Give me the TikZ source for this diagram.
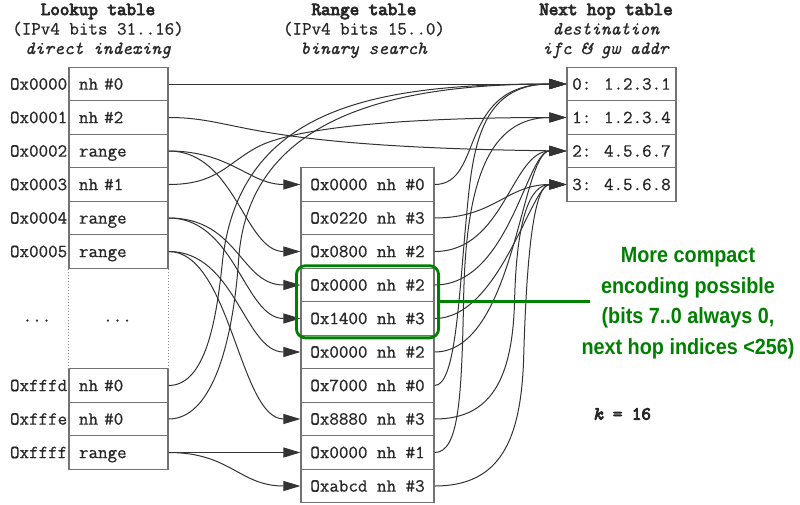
\documentclass[tikz,border=0pt]{standalone}
\usepackage{fontspec}
\newfontfamily\greenfont[FakeStretch=0.9]{Liberation Sans}
\newfontfamily\tabtt[FakeBold=0.7]{Latin Modern Mono}
\newfontfamily\tabttb[FakeBold=4.5]{Latin Modern Mono}
\usetikzlibrary{arrows.meta,calc,fit}
\definecolor{ggreen}{RGB}{0,128,0}
\definecolor{ink}{RGB}{40,40,40}
\newcommand\tabfont{\fontsize{18.5}{19.5}\selectfont\tabtt}
\newcommand\sconn[4]{\draw[conn] (#1) .. controls ($(#1)+(#3,0)$) and ($(#2)+(-#4,0)$) .. (#2);}
\newcommand\dconn[7]{\draw[conn] (#1) .. controls ($(#1)+(#3,0)$) and ($(#1)+(#4)$) .. ($(#1)+(#5)$) .. controls ($(#1)+(#6)$) and ($(#2)+(-#7,0)$) .. (#2);}
\begin{document}
\begin{tikzpicture}[x=1pt,y=-1pt,
  cell/.style={draw=black!55, line width=1.2pt, minimum height=33.5pt, inner sep=0pt, font=\tabfont, text=ink, text height=13pt, text depth=1.7pt},
  lkcell/.style={cell, minimum width=99pt, text width=79pt, align=left},
  rgcell/.style={cell, minimum width=133pt},
  nhcell/.style={cell, minimum width=109pt},
  lbl/.style={font=\tabfont, text=ink, inner sep=1pt, text height=13pt, text depth=1.7pt},
  title/.style={font=\tabfont, text=ink, align=center, inner sep=0pt},
  conn/.style={draw=black!80, line width=1pt, -{Triangle[length=17pt,width=10pt]}},
  gbox/.style={draw=ggreen, line width=2.8pt, rounded corners=9pt, inner xsep=4pt, inner ysep=2pt},
  gline/.style={draw=ggreen, line width=2.8pt},
  ]
\path[use as bounding box, fill=white] (0,0) rectangle (800,504);

% titles
\node[title] (t1) at (98,31) {{\tabttb Lookup table}\\(IPv4 bits 31..16)\\\textit{direct indexing}};
\node[title] (t2) at (364,31) {{\tabttb Range table}\\(IPv4 bits 15..0)\\\textit{binary search}};
\node[title] (t3) at (606,31) {{\tabttb Next hop table}\\\textit{destination}\\\textit{ifc \& gw addr}};

% lookup table
\node[lkcell] (lk0) at (118.5,84) {nh \#0};
\node[lkcell] (lk1) at (118.5,117.5) {nh \#2};
\node[lkcell] (lk2) at (118.5,151) {range};
\node[lkcell] (lk3) at (118.5,184.5) {nh \#1};
\node[lkcell] (lk4) at (118.5,218) {range};
\node[lkcell] (lk5) at (118.5,251.5) {range};
\node[lkcell] (lkD) at (118.5,385.5) {nh \#0};
\node[lkcell] (lkE) at (118.5,419) {nh \#0};
\node[lkcell] (lkF) at (118.5,452.5) {range};
\draw[dotted, black!45, line width=1pt] (lk5.south west) -- (lkD.north west);
\draw[dotted, black!45, line width=1pt] (lk5.south east) -- (lkD.north east);
\node[lbl] (dl) at (37,316) {...};
\node[lbl] (dc) at (117.5,316) {...};

\node[lbl, anchor=east] (la0) at (lk0.west) {Ox0000};
\node[lbl, anchor=east] (la1) at (lk1.west) {Ox0001};
\node[lbl, anchor=east] (la2) at (lk2.west) {Ox0002};
\node[lbl, anchor=east] (la3) at (lk3.west) {Ox0003};
\node[lbl, anchor=east] (la4) at (lk4.west) {Ox0004};
\node[lbl, anchor=east] (la5) at (lk5.west) {Ox0005};
\node[lbl, anchor=east] (laD) at (lkD.west) {Oxfffd};
\node[lbl, anchor=east] (laE) at (lkE.west) {Oxfffe};
\node[lbl, anchor=east] (laF) at (lkF.west) {Oxffff};

% range table
\node[rgcell] (r0) at (367.5,184.5) {Ox0000 nh \#0};
\node[rgcell] (r1) at (367.5,218) {Ox0220 nh \#3};
\node[rgcell] (r2) at (367.5,251.5) {Ox0800 nh \#2};
\node[rgcell] (r3) at (367.5,285) {Ox0000 nh \#2};
\node[rgcell] (r4) at (367.5,318.5) {Ox1400 nh \#3};
\node[rgcell] (r5) at (367.5,352) {Ox0000 nh \#2};
\node[rgcell] (r6) at (367.5,385.5) {Ox7000 nh \#0};
\node[rgcell] (r7) at (367.5,419) {Ox8880 nh \#3};
\node[rgcell] (r8) at (367.5,452.5) {Ox0000 nh \#1};
\node[rgcell] (r9) at (367.5,486) {Oxabcd nh \#3};

% next hop table
\node[nhcell] (n0) at (621.5,84) {0: 1.2.3.1};
\node[nhcell] (n1) at (621.5,117.5) {1: 1.2.3.4};
\node[nhcell] (n2) at (621.5,151) {2: 4.5.6.7};
\node[nhcell] (n3) at (621.5,184.5) {3: 4.5.6.8};

% lookup -> range
\sconn{lk2.east}{r0.west}{62}{51}
\sconn{lk2.east}{r2.west}{67}{56}
\sconn{lk4.east}{r3.west}{70}{60}
\sconn{lk4.east}{r4.west}{67}{56}
\sconn{lk5.east}{r5.west}{67}{56}
\sconn{lk5.east}{r7.west}{62}{61}
\draw[conn] (lkF.east) -- (r8.west);
\sconn{lkF.east}{r9.west}{62}{61}

% lookup -> next hop
\draw[conn] (lk0.east) -- (n0.west);
\draw[conn] (lk1.east) .. controls ($(lk1.east)+(72,0)$) and ($(n2.west)+(-327,-4)$) .. (n2.west);
\dconn{lk3.east}{n1.west}{47}{57,-19.5}{87,-36.5}{122,-56.5}{167}
\dconn{lkD.east}{n0.west}{37}{48,-65.5}{54,-125.5}{72,-280.5}{187}
\dconn{lkE.east}{n0.west}{50}{66,-99}{70,-159}{79,-299}{180}

% range -> next hop
\sconn{r0.east}{n0.west}{50}{110}
\sconn{r1.east}{n3.west}{60}{60}
\sconn{r2.east}{n2.west}{70}{55}
\sconn{r3.east}{n2.west}{75}{40}
\sconn{r4.east}{n3.west}{65}{35}
\sconn{r5.east}{n2.west}{80}{45}
\dconn{r6.east}{n0.west}{21}{24,-85.5}{32,-170.5}{38,-235.5}{87}
\dconn{r7.east}{n3.west}{56}{78,-39}{80,-119}{82,-199}{37}
\dconn{r8.east}{n1.west}{24}{27,-52.5}{29,-152.5}{31,-272.5}{77}
\dconn{r9.east}{n3.west}{66}{86,-46}{89,-126}{92,-236}{32}

% green annotation
\node[gbox, fit=(r3)(r4)] (gb) {};
\coordinate (gend) at (590,304);
\draw[gline] (gb.east) -- (gb.east -| gend);
\node[font=\greenfont\bfseries\fontsize{22}{30.5}\selectfont, text=ggreen, align=center] (gt) at (688,303)
  {More compact\\encoding possible\\(bits 7..0 always 0,\\next hop indices <256)};

\node[lbl] (kk) at (622,414) {\tabttb\textit{k} = 16};
\end{tikzpicture}
\end{document}
